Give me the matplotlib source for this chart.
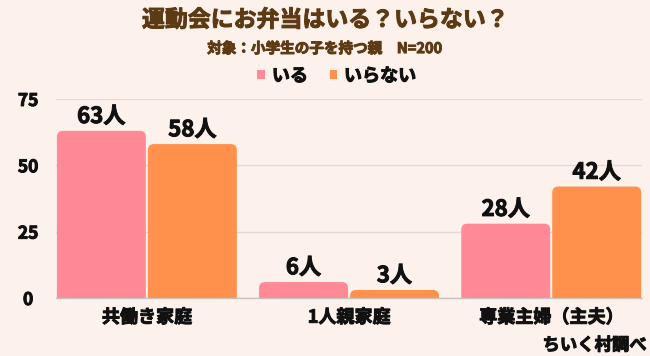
import matplotlib
matplotlib.use("Agg")
import matplotlib.pyplot as plt
from matplotlib.patches import FancyBboxPatch
import matplotlib.patheffects as pe
import numpy as np

plt.rcParams['font.family'] = ['Noto Sans CJK JP', 'DejaVu Sans']

categories = ["共働き家庭", "1人親家庭", "専業主婦（主夫）"]
series_names = ["いる", "いらない"]
iru = [63, 6, 28]
iranai = [58, 3, 42]
yticks = [0, 25, 50, 75]

bg = "#FDF1EC"
pink = "#FF8A96"
orange = "#FF914D"
brown = "#5C3A14"
W = "bold"


def thick(color):
    return [pe.withStroke(linewidth=0.7, foreground=color)]


fig = plt.figure(figsize=(6.5, 3.56), dpi=100, facecolor=bg)
ax = fig.add_axes([0.086, 0.163, 0.902, 0.559])
ax.set_facecolor(bg)

ax.set_xlim(-0.45, 2.45)
ax.set_ylim(0, 75)

x = np.arange(len(categories))
w = 0.44
off = 0.225
b1 = ax.bar(x - off, iru, width=w, color=pink, label=series_names[0], zorder=3)
b2 = ax.bar(x + off, iranai, width=w, color=orange, label=series_names[1], zorder=3)

# rounded tops: replace the drawn rectangles with rounded boxes of the same geometry
aspect = (75 / (0.559 * 356)) / (2.9 / (0.902 * 650))
for bars in (b1, b2):
    for r in bars:
        r.set_visible(False)
        ext = 3.0
        p = FancyBboxPatch((r.get_x(), r.get_y() - ext), r.get_width(), r.get_height() + ext,
                           boxstyle="round,pad=0,rounding_size=0.03",
                           mutation_aspect=aspect, facecolor=r.get_facecolor(),
                           edgecolor="none", zorder=3)
        ax.add_patch(p)

for bars, vals in ((b1, iru), (b2, iranai)):
    for r, v in zip(bars, vals):
        ax.annotate(f"{v}人", (r.get_x() + r.get_width() / 2, v),
                    xytext=(0, 2), textcoords="offset points",
                    ha="center", va="bottom", fontsize=16, fontweight=W,
                    color="#111111", annotation_clip=False,
                    path_effects=thick("#111111"))

ax.set_yticks(yticks)
ax.set_yticklabels([str(t) for t in yticks], fontsize=12.5, fontweight=W, color="#111111")
ax.set_xticks(x)
ax.set_xticklabels(categories, fontsize=13, fontweight=W, color="#111111")
for t in ax.get_yticklabels() + ax.get_xticklabels():
    t.set_path_effects(thick("#111111"))
ax.tick_params(axis="both", length=0)
ax.tick_params(axis="y", pad=20)
ax.tick_params(axis="x", pad=7)
for t in ax.get_yticklabels():
    t.set_horizontalalignment("center")

ax.yaxis.grid(True, color="#E3D9D5", linewidth=1, zorder=0)
ax.set_axisbelow(True)
for s in ["top", "right", "left"]:
    ax.spines[s].set_visible(False)
ax.spines["bottom"].set_color("#C9C1BD")
ax.spines["bottom"].set_linewidth(1)
ax.spines["bottom"].set_zorder(4)

fig.text(0.5, 0.943, "運動会にお弁当はいる？いらない？", ha="center", va="center",
         fontsize=16.5, fontweight=W, color=brown, path_effects=thick(brown))
fig.text(0.5, 0.865, "対象：小学生の子を持つ親　N=200", ha="center", va="center",
         fontsize=10.5, fontweight=W, color=brown, path_effects=thick(brown))

leg = fig.legend(handles=[b1, b2], labels=series_names, loc="center",
                 bbox_to_anchor=(0.518, 0.787), ncol=2, frameon=False,
                 prop={"size": 13, "weight": W},
                 handlelength=0.4, handleheight=0.4, handletextpad=0.4,
                 columnspacing=1.2)
for h in leg.legend_handles:
    h.set_visible(True)
for t in leg.get_texts():
    t.set_color("#111111")
    t.set_path_effects(thick("#111111"))

fig.text(0.995, 0.03, "ちいく村調べ", ha="right", va="center",
         fontsize=12.5, fontweight=W, color="#111111", path_effects=thick("#111111"))

fig.savefig("out.png", dpi=100, facecolor=bg)
